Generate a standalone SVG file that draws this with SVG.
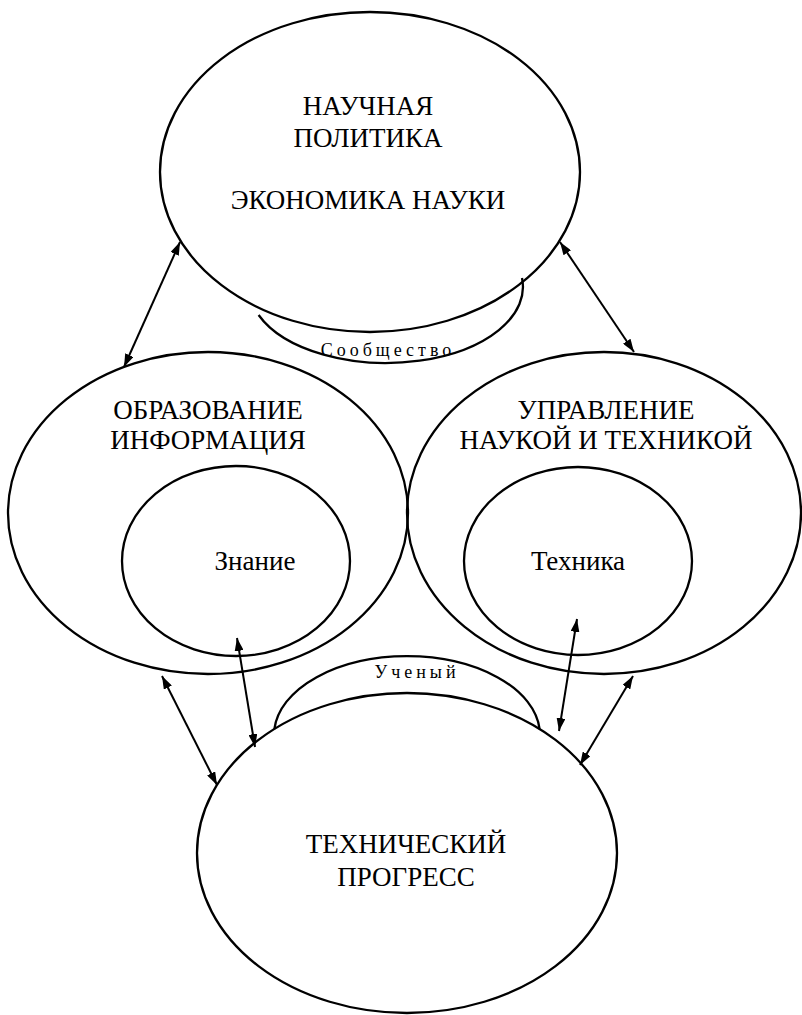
<svg xmlns="http://www.w3.org/2000/svg" width="802" height="1015" viewBox="0 0 802 1015">
<style>
.n{fill:none;stroke:#000;stroke-width:2.3}
.c{fill:none;stroke:#000;stroke-width:2}
text{font-family:'Liberation Serif','Times New Roman','DejaVu Serif',serif;fill:#000;text-anchor:middle}
.t{font-size:27px}
.s{font-size:18px;letter-spacing:4px}
</style>
<defs>
<marker id="ah" viewBox="0 0 13 9" refX="13" refY="4.5" markerWidth="13" markerHeight="9" markerUnits="userSpaceOnUse" orient="auto-start-reverse">
<path d="M0,0 L13,4.5 L0,9 z" fill="#000"/>
</marker>
</defs>
<rect width="802" height="1015" fill="#fff"/>
<g id="policy">
<ellipse class="n" cx="370" cy="172" rx="210" ry="160"/>
<text class="t" x="368" y="115">НАУЧНАЯ</text>
<text class="t" x="368" y="147">ПОЛИТИКА</text>
<text class="t" x="368" y="209">ЭКОНОМИКА НАУКИ</text>
</g>
<g id="community">
<path class="n" d="M258.6 315 A137 76 0 0 0 522 278"/>
<text class="s" x="388" y="356">Сообщество</text>
</g>
<g id="education">
<ellipse class="n" cx="208" cy="513" rx="200" ry="161"/>
<text class="t" x="208" y="419">ОБРАЗОВАНИЕ</text>
<text class="t" x="208" y="449">ИНФОРМАЦИЯ</text>
</g>
<g id="knowledge">
<ellipse class="n" cx="236" cy="561" rx="114" ry="95"/>
<text class="t" x="255" y="570">Знание</text>
</g>
<g id="management">
<ellipse class="n" cx="604" cy="513" rx="197" ry="161"/>
<text class="t" x="606" y="419">УПРАВЛЕНИЕ</text>
<text class="t" x="606" y="449">НАУКОЙ И ТЕХНИКОЙ</text>
</g>
<g id="technique">
<ellipse class="n" cx="578" cy="561" rx="114" ry="94"/>
<text class="t" x="578" y="570">Техника</text>
</g>
<g id="progress">
<ellipse class="n" cx="407" cy="853" rx="210" ry="160"/>
<text class="t" x="406" y="853">ТЕХНИЧЕСКИЙ</text>
<text class="t" x="406" y="886">ПРОГРЕСС</text>
</g>
<g id="scientist">
<path class="n" d="M274.4 729 A133 79 0 0 1 539.6 729"/>
<text class="s" x="417" y="678">Ученый</text>
</g>
<g id="connectors">
<line class="c" x1="124" y1="367" x2="180" y2="242" marker-start="url(#ah)" marker-end="url(#ah)"/>
<line class="c" x1="560" y1="242" x2="634" y2="352" marker-start="url(#ah)" marker-end="url(#ah)"/>
<line class="c" x1="162" y1="676" x2="217" y2="785" marker-start="url(#ah)" marker-end="url(#ah)"/>
<line class="c" x1="237" y1="638" x2="255" y2="747" marker-start="url(#ah)" marker-end="url(#ah)"/>
<line class="c" x1="577" y1="619" x2="559" y2="731" marker-start="url(#ah)" marker-end="url(#ah)"/>
<line class="c" x1="633" y1="676" x2="580" y2="765" marker-start="url(#ah)" marker-end="url(#ah)"/>
</g>
</svg>
